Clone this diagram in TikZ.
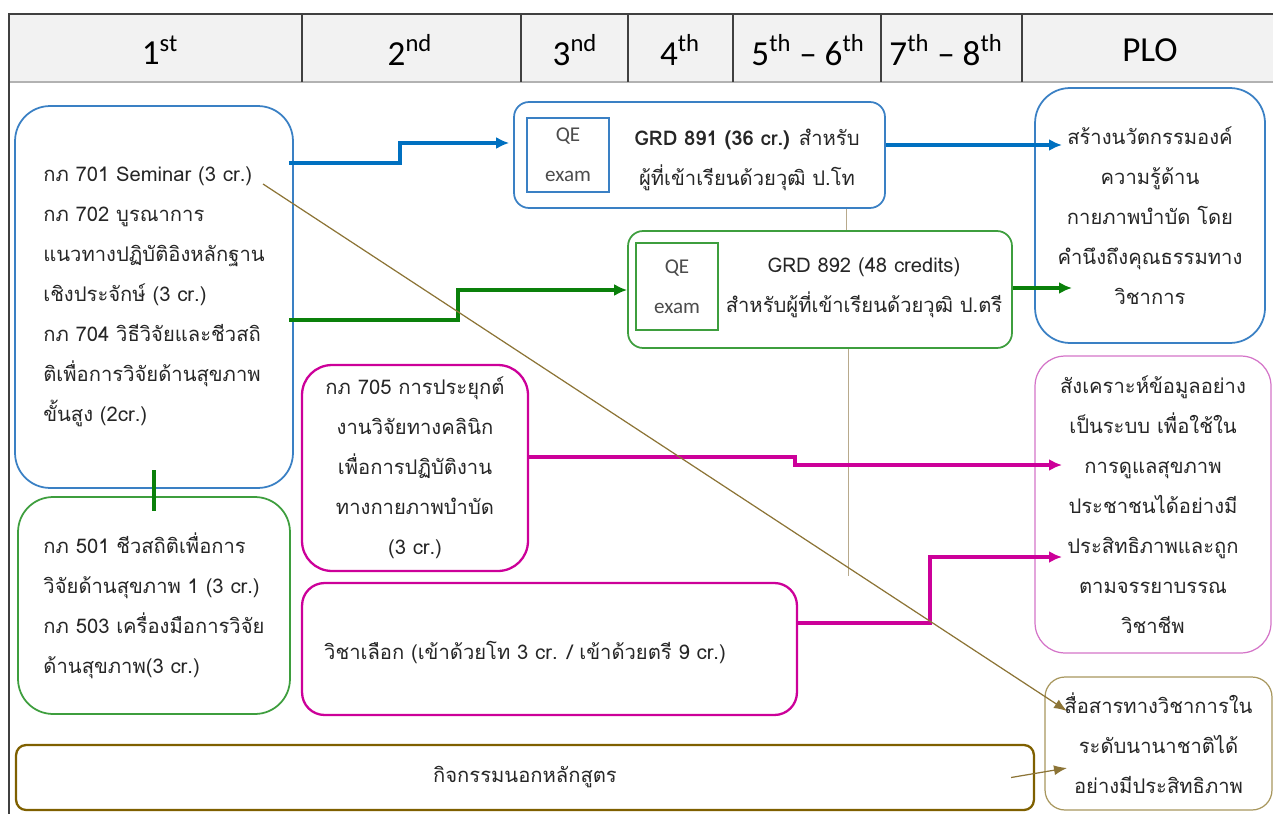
\documentclass[tikz,border=0pt]{standalone}
\usepackage{fontspec}
\usetikzlibrary{arrows.meta}
\setmainfont{Carlito}
\newfontfamily\thaifont[Script=Thai]{Loma}
\definecolor{gridgray}{HTML}{404040}
\definecolor{headgray}{HTML}{F2F2F2}
\definecolor{boxblue}{HTML}{3A80C4}
\definecolor{arrblue}{HTML}{0070C0}
\definecolor{boxgreen}{HTML}{3E9E3E}
\definecolor{arrgreen}{HTML}{0A800A}
\definecolor{mag}{HTML}{CC0099}
\definecolor{palemag}{HTML}{D474C8}
\definecolor{darkolive}{HTML}{7F6000}
\definecolor{olive}{HTML}{8C7436}
\definecolor{paleolive}{HTML}{A8975E}
\definecolor{tan}{HTML}{B8AA8C}

\begin{document}
\begin{tikzpicture}[x=0.02cm,y=-0.02cm,
    head/.style={font=\fontsize{20}{24}\selectfont},
    txt/.style={font=\thaifont\fontsize{11.5}{22.8}\selectfont,text=black!85},
    card/.style={draw=#1,line width=1pt,inner sep=0pt,txt},
    qe/.style={draw=#1,line width=0.8pt,inner sep=0pt,minimum width=1.64cm,
      font=\fontsize{12}{22.8}\selectfont,text=black!70,align=center},
    link/.style={draw=#1,line width=2.2pt,-{Latex[length=0.26cm,width=0.24cm]}},
    pale/.style={draw=#1,line width=0.7pt,-{Latex[length=0.26cm,width=0.2cm]}}]
  \useasboundingbox (0,0) rectangle (1273,814);
  \fill[headgray] (9,14) rectangle (1273,82);
  \draw[gridgray!40,line width=0.8pt] (9,82) -- (1273,82);
  \draw[gridgray,line width=1pt] (1273,14) -- (9,14) -- (9,814);
  \foreach \x in {302,521,628,733,881,1022}
    \draw[gridgray,line width=1pt] (\x,14) -- (\x,82);
  \node[head] (h1) at (160,50) {1\textsuperscript{st}};
  \node[head] (h2) at (410,50) {2\textsuperscript{nd}};
  \node[head] (h3) at (575,50) {3\textsuperscript{nd}};
  \node[head] (h4) at (680,50) {4\textsuperscript{th}};
  \node[head] (h5) at (808,50) {5\textsuperscript{th} -- 6\textsuperscript{th}};
  \node[head] (h7) at (946,50) {7\textsuperscript{th} -- 8\textsuperscript{th}};
  \node[head] (plo) at (1150,50) {PLO};

  \node[card=boxblue,rounded corners=0.7cm,minimum width=5.56cm,minimum height=7.64cm,align=left]
    (b1) at (154,297) {กภ 701 Seminar (3 cr.)\\กภ 702 บูรณาการ\\แนวทางปฏิบัติอิงหลักฐาน\\เชิงประจักษ์ (3 cr.)\\กภ 704 วิธีวิจัยและชีวสถิ\\ติเพื่อการวิจัยด้านสุขภาพ\\ขั้นสูง (2cr.)};
  \node[card=boxgreen,rounded corners=0.7cm,minimum width=5.44cm,minimum height=4.34cm,align=left]
    (b2) at (154,605.5) {กภ 501 ชีวสถิติเพื่อการ\\วิจัยด้านสุขภาพ 1 (3 cr.)\\กภ 503 เครื่องมือการวิจัย\\ด้านสุขภาพ(3 cr.)};
  \node[card=boxblue,rounded corners=0.3cm,minimum width=7.42cm,minimum height=2.12cm] (g891) at (699.5,155) {};
  \node[qe=boxblue,minimum height=1.48cm] (qe1) at (568,155) {QE\\exam};
  \node[txt,align=center] (t891) at (747,160) {\textbf{GRD 891 (36 cr.)} สำหรับ\\ผู้ที่เข้าเรียนด้วยวุฒิ ป.โท};
  \node[card=boxgreen,rounded corners=0.3cm,minimum width=7.68cm,minimum height=2.34cm] (g892) at (820,289.5) {};
  \node[qe=boxgreen,minimum height=1.74cm] (qe2) at (677,286.5) {QE\\exam};
  \node[txt,align=center] (t892) at (864,288) {GRD 892 (48 credits)\\สำหรับผู้ที่เข้าเรียนด้วยวุฒิ ป.ตรี};
  \node[card=mag,line width=1.3pt,rounded corners=0.6cm,minimum width=4.52cm,minimum height=4.12cm,align=center]
    (c705) at (415,468) {กภ 705 การประยุกต์\\งานวิจัยทางคลินิก\\เพื่อการปฏิบัติงาน\\ทางกายภาพบำบัด\\(3 cr.)};
  \node[card=mag,line width=1.3pt,rounded corners=0.45cm,minimum width=9.9cm,minimum height=2.64cm] (elec) at (549.5,649) {};
  \node[txt,anchor=west] (elect) at (318,653) {วิชาเลือก (เข้าด้วยโท 3 cr. / เข้าด้วยตรี 9 cr.)};
  \node[card=darkolive,line width=1.3pt,rounded corners=0.2cm,minimum width=20.36cm,minimum height=1.3cm]
    (extra) at (525,777.5) {กิจกรรมนอกหลักสูตร};
  \node[card=boxblue,rounded corners=0.7cm,minimum width=4.6cm,minimum height=5.1cm,align=center]
    (plo1) at (1150,215.5) {สร้างนวัตกรรมองค์\\ความรู้ด้าน\\กายภาพบำบัด โดย\\คำนึงถึงคุณธรรมทาง\\วิชาการ};
  \node[card=palemag,line width=0.7pt,rounded corners=0.6cm,minimum width=4.72cm,minimum height=5.94cm,align=center]
    (plo2) at (1153,504.5) {สังเคราะห์ข้อมูลอย่าง\\เป็นระบบ เพื่อใช้ใน\\การดูแลสุขภาพ\\ประชาชนได้อย่างมี\\ประสิทธิภาพและถูก\\ตามจรรยาบรรณ\\วิชาชีพ};
  \node[card=paleolive,line width=0.7pt,rounded corners=0.4cm,minimum width=4.54cm,minimum height=2.66cm,align=center]
    (plo3) at (1158.5,743.5) {สื่อสารทางวิชาการใน\\ระดับนานาชาติได้\\อย่างมีประสิทธิภาพ};

  \coordinate (sem) at (263,184);
  \coordinate (p1a) at (1062,145);
  \coordinate (p1b) at (1072,288);
  \coordinate (p2a) at (1062,465);
  \coordinate (p2b) at (1062,557);
  \coordinate (p3a) at (1067,711);
  \coordinate (p3b) at (1067,768);
  \coordinate (cut) at (848,576);

  \draw[tan,line width=0.5pt] (g891.south -| 846,0) -- (g892.north -| 846,0);
  \draw[tan,line width=0.5pt] (g892.south -| 848,0) -- (cut);
  \draw[arrgreen,line width=2.6pt] ([yshift=-0.44cm]b1.south) -- ([yshift=0.52cm]b2.north);
  \draw[link=arrblue] ([xshift=-0.1cm]b1.east |- 0,163) -- (400,163) -- (400,143) -- ([xshift=-0.08cm]g891.west |- 0,143);
  \draw[link=arrblue] (g891.east |- 0,145) -- (p1a);
  \draw[link=arrgreen] ([xshift=-0.1cm]b1.east |- 0,320) -- (458,320) -- (458,290) -- (g892.west |- 0,290);
  \draw[link=arrgreen] (g892.east |- 0,288) -- (p1b);
  \draw[link=mag] (c705.east |- 0,457) -- (795,457) -- (795,465) -- (p2a);
  \draw[link=mag] (elec.east |- 0,623) -- (930,623) -- (930,557) -- (p2b);
  \draw[pale=olive] (sem) -- (p3a);
  \draw[pale=olive] ([xshift=-0.48cm]extra.east) -- (p3b);
\end{tikzpicture}
\end{document}
